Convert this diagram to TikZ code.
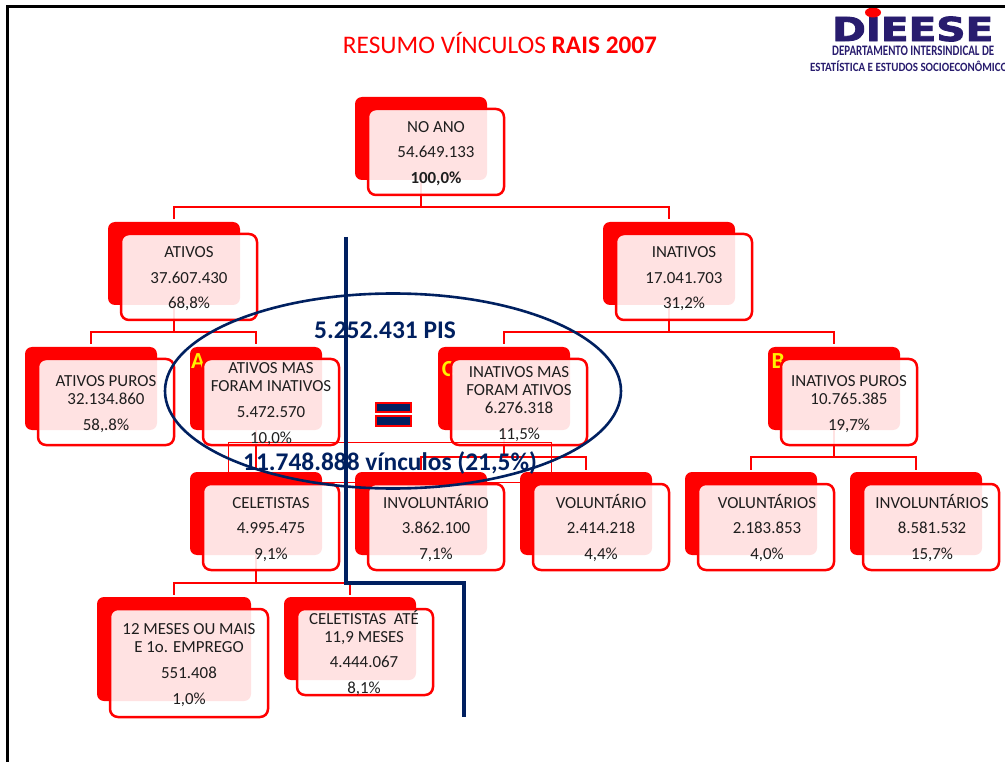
\documentclass[tikz,border=0pt]{standalone}
\usepackage{fontspec}
\usetikzlibrary{shapes.geometric}
\setmainfont{Carlito}
\definecolor{navyb}{RGB}{0,32,96}
\definecolor{logob}{RGB}{40,28,110}
\definecolor{redm}{RGB}{255,0,0}
\definecolor{ink}{RGB}{30,30,30}
\tikzset{
  backbox/.style={fill=redm,rounded corners=7pt,inner sep=0pt,outer sep=0pt,anchor=north west},
  frontbox/.style={draw=redm,line width=2.5pt,fill=white,fill opacity=.885,rounded corners=8pt,inner sep=0pt,outer sep=0pt,anchor=north west},
  linklc/.style={draw=redm,line width=2.7pt,shorten >=2.5pt},
  boxtext/.style={text=ink,font=\fontsize{16.9}{19}\selectfont,inner sep=0pt,text height=10.7pt,text depth=0pt},
  tagl/.style={text=yellow,font=\fontsize{23}{26}\selectfont\bfseries,inner sep=0pt},
  bigblue/.style={text=navyb,font=\fontsize{25.4}{29}\selectfont\bfseries,inner sep=0pt},
  eqbar/.style={draw=redm,fill=navyb,line width=2pt,minimum width=35pt,minimum height=9.5pt,inner sep=0pt,outer sep=0pt},
  navyl/.style={draw=navyb,line width=3.2pt}
}
\newcommand{\redbk}[5]{\node[backbox,minimum width=#4pt,minimum height=#5pt] (#1) at (#2,#3) {};}
\newcommand{\frontbk}[5]{\node[frontbox,minimum width=#4pt,minimum height=#5pt] (#1) at (#2,#3) {};}
\newcommand{\tx}[4]{\node[boxtext] (#1) at (#2,#3) {#4};}
\begin{document}
\begin{tikzpicture}[x=1pt,y=-1pt]
\useasboundingbox (0,0) rectangle (1005,762);
\fill[white] (0,0) rectangle (1005,762);
% frame
\draw[black,line width=3pt] (7,762) -- (7,7) -- (1005,7);
% title
\node[text=redm,font=\fontsize{25.3}{29}\selectfont,inner sep=0pt] (title) at (500,43.5) {RESUMO VÍNCULOS \textbf{RAIS 2007}};
% logo
\begin{scope}
\clip (800,8.5) rectangle (1005,80);
\node[text=logob,inner sep=0pt,anchor=west] (logoa) at (832,29) {\resizebox{161pt}{24.5pt}{\fontspec[BoldFeatures={FakeBold=2.5}]{DejaVu Sans}\bfseries DIEESE}};
\fill[redm] (873,12.5) ellipse (8 and 5);
\node[text=logob,inner sep=0pt,anchor=west] (logob) at (832,50.5) {\resizebox{162pt}{9.5pt}{\bfseries DEPARTAMENTO INTERSINDICAL DE}};
\node[text=logob,inner sep=0pt,anchor=base west] (logoc) at (810,71.5) {\resizebox{203pt}{10.6pt}{\bfseries ESTATÍSTICA E ESTUDOS SOCIOECONÔMICOS}};
\end{scope}
% back boxes
\redbk{ra}{355}{97}{132}{83}
\redbk{rb}{108}{222}{132}{83}
\redbk{rc}{603}{222}{132}{83}
\redbk{rd}{25}{347}{132}{83}
\redbk{re}{190}{347}{132}{83}
\redbk{rf}{438}{347}{132}{83}
\redbk{rg}{768}{347}{132}{83}
\redbk{rh}{190}{472}{132}{83}
\redbk{ri}{355}{472}{132}{83}
\redbk{rj}{520}{472}{132}{83}
\redbk{rk}{685}{472}{132}{83}
\redbk{rl}{850}{472}{132}{83}
\redbk{rm}{97}{597}{154}{104}
\redbk{rn}{284}{597}{132}{83}
% connectors
\draw[linklc] (ra.south) -- ++(0,27) -| (rb.north);
\draw[linklc] (ra.south) -- ++(0,27) -| (rc.north);
\draw[linklc] (rb.south) -- ++(0,27) -| (rd.north);
\draw[linklc] (rb.south) -- ++(0,27) -| (re.north);
\draw[linklc] (rc.south) -- ++(0,27) -| (rf.north);
\draw[linklc] (rc.south) -- ++(0,27) -| (rg.north);
\draw[linklc] (re.south) -- (rh.north);
\draw[linklc] (rf.south) -- ++(0,27) -| (ri.north);
\draw[linklc] (rf.south) -- ++(0,27) -| (rj.north);
\draw[linklc] (rg.south) -- ++(0,27) -| (rk.north);
\draw[linklc] (rg.south) -- ++(0,27) -| (rl.north);
\draw[linklc] (rh.south) -- ++(0,28) -| (rm.north);
\draw[linklc] (rh.south) -- ++(0,28) -| (rn.north);
% letters
\node[tagl] (tagA) at (198,361) {A};
\node[tagl] (tagB) at (778,361) {B};
\node[tagl] (tagC) at (448,369) {C};
% front boxes
\frontbk{fa}{368}{109}{136}{86}
\frontbk{fb}{121}{234}{136}{86}
\frontbk{fc}{616}{234}{136}{86}
\frontbk{fd}{38}{359}{136}{86}
\frontbk{fe}{203}{359}{136}{86}
\frontbk{ff}{451}{359}{136}{86}
\frontbk{fg}{781}{359}{136}{86}
\frontbk{fh}{203}{484}{136}{86}
\frontbk{fi}{368}{484}{136}{86}
\frontbk{fj}{533}{484}{136}{86}
\frontbk{fk}{698}{484}{136}{86}
\frontbk{fl}{863}{484}{136}{86}
\frontbk{fm}{110}{609}{158}{108}
\frontbk{fn}{297}{609}{136}{86}
% thin rectangle
\node[draw=redm,line width=.7pt,minimum width=323pt,minimum height=40pt,inner sep=0pt,outer sep=0pt,anchor=north west] (sumbox) at (228,442) {};
% box texts
\tx{a1}{436}{127}{NO ANO}\tx{a2}{436}{152}{54.649.133}\tx{a3}{436}{178}{\textbf{100,0\%}}
\tx{b1}{189}{252}{ATIVOS}\tx{b2}{189}{278}{37.607.430}\tx{b3}{189}{303}{68,8\%}
\tx{c1}{684}{252}{INATIVOS}\tx{c2}{684}{278}{17.041.703}\tx{c3}{684}{303}{31,2\%}
\tx{d1}{106}{381}{ATIVOS PUROS}\tx{d2}{106}{399}{32.134.860}\tx{d3}{106}{425}{58,.8\%}
\tx{e1}{271}{368}{ATIVOS MAS}\tx{e2}{271}{386}{FORAM INATIVOS}\tx{e3}{271}{412}{5.472.570}\tx{e4}{271}{438}{10,0\%}
\tx{f1}{519}{372}{INATIVOS MAS}\tx{f2}{519}{390}{FORAM ATIVOS}\tx{f3}{519}{408}{6.276.318}\tx{f4}{519}{434}{11,5\%}
\tx{g1}{849}{381}{INATIVOS PUROS}\tx{g2}{849}{399}{10.765.385}\tx{g3}{849}{425}{19,7\%}
\tx{h1}{271}{503}{CELETISTAS}\tx{h2}{271}{528}{4.995.475}\tx{h3}{271}{554}{9,1\%}
\tx{i1}{436}{503}{INVOLUNTÁRIO}\tx{i2}{436}{528}{3.862.100}\tx{i3}{436}{554}{7,1\%}
\tx{j1}{601}{503}{VOLUNTÁRIO}\tx{j2}{601}{528}{2.414.218}\tx{j3}{601}{554}{4,4\%}
\tx{k1}{767}{503}{VOLUNTÁRIOS}\tx{k2}{767}{528}{2.183.853}\tx{k3}{767}{554}{4,0\%}
\tx{l1}{932}{503}{INVOLUNTÁRIOS}\tx{l2}{932}{528}{8.581.532}\tx{l3}{932}{554}{15,7\%}
\tx{m1}{189}{629}{12 MESES OU MAIS}\tx{m2}{189}{647}{E 1o. EMPREGO}\tx{m3}{189}{673}{551.408}\tx{m4}{189}{699}{1,0\%}
\tx{n1}{364}{619}{CELETISTAS\ \ ATÉ}\tx{n2}{364}{637}{11,9 MESES}\tx{n3}{364}{662}{4.444.067}\tx{n4}{364}{688}{8,1\%}
% overlay
\node[draw=navyb,line width=2.6pt,ellipse,minimum width=456pt,minimum height=195pt,inner sep=0pt,outer sep=0pt] (oval) at (393,391) {};
\coordinate (ntop) at (346,237);
\coordinate (nbend) at (346,583);
\coordinate (nbend2) at (464,583);
\coordinate (nend) at (464,717);
\draw[navyl] (ntop) -- (nbend) -- (nbend2) -- (nend);
\node[bigblue] (pis) at (385,330) {5.252.431 PIS};
\node[bigblue] (vinc) at (390,463) {11.748.888 vínculos (21,5\%)};
\node[eqbar] (eqa) at (393.5,407.5) {};
\node[eqbar] (eqb) at (393.5,421) {};
\end{tikzpicture}
\end{document}
